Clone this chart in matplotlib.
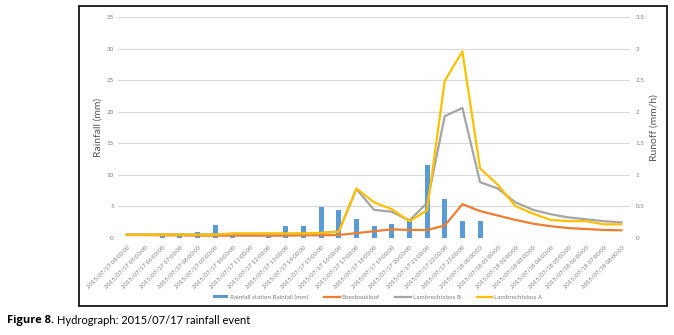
import matplotlib.pyplot as plt
import numpy as np
from matplotlib.patches import Rectangle

plt.rcParams['font.family'] = ['Lato', 'DejaVu Sans']

# hourly time steps
hours = ["2015/07/17 %02d:00:00" % h for h in range(4, 24)] + \
        ["2015/07/18 %02d:00:00" % h for h in range(0, 9)]

rainfall = [0, 0, 0.2, 0.2, 0.8, 2.0, 0.2, 0, 0.2, 1.8, 1.8, 4.8, 4.4, 3.0,
            1.8, 2.2, 2.6, 11.5, 6.2, 2.6, 2.6, 0, 0, 0, 0, 0, 0, 0, 0]
boesboukloof = [0.04, 0.04, 0.035, 0.035, 0.03, 0.03, 0.03, 0.03, 0.03, 0.03,
                0.035, 0.035, 0.04, 0.07, 0.1, 0.13, 0.12, 0.12, 0.19, 0.53,
                0.42, 0.35, 0.28, 0.22, 0.18, 0.15, 0.135, 0.12, 0.115]
lambrechtsbos_b = [0.05, 0.05, 0.05, 0.05, 0.05, 0.05, 0.06, 0.06, 0.06, 0.06,
                   0.065, 0.07, 0.1, 0.77, 0.44, 0.41, 0.27, 0.55, 1.93, 2.06,
                   0.88, 0.78, 0.56, 0.44, 0.37, 0.32, 0.29, 0.26, 0.24]
lambrechtsbos_a = [0.045, 0.045, 0.045, 0.045, 0.045, 0.045, 0.065, 0.065, 0.065, 0.065,
                   0.065, 0.075, 0.09, 0.78, 0.56, 0.45, 0.26, 0.43, 2.49, 2.96,
                   1.1, 0.84, 0.5, 0.38, 0.28, 0.26, 0.26, 0.21, 0.21]

grey = '#7f7f7f'
fig = plt.figure(figsize=(6.74, 3.35), dpi=100)
ax = fig.add_axes([0.175, 0.291, 0.760, 0.657])
x = np.arange(len(hours))

ax.bar(x, rainfall, width=0.28, color='#5B9BD5', zorder=2, label='Rainfall station Rainfall (mm)')
ax.set_ylim(0, 35)
ax.set_yticks(np.arange(0, 36, 5))
ax.set_xlim(-0.5, len(hours) - 0.5)
ax.grid(axis='y', color='#d9d9d9', linewidth=0.8, zorder=0)
ax.set_axisbelow(True)
for s in ax.spines.values():
    s.set_visible(False)
ax.tick_params(length=0, labelsize=4.5, labelcolor=grey)
ax.tick_params(axis='y', pad=3)
ax.tick_params(axis='x', pad=5)
ax.set_xticks(x)
ax.set_xticklabels(hours, rotation=45, ha='right', rotation_mode='anchor', fontsize=4.3)
ax.set_ylabel('Rainfall (mm)', fontsize=7.5, color='#595959', labelpad=3)

ax2 = ax.twinx()
ax2.plot(x, boesboukloof, color='#ED7D31', lw=1.6, label='Boesboukloof')
ax2.plot(x, lambrechtsbos_b, color='#A5A5A5', lw=1.6, label='Lambrechtsbos B')
ax2.plot(x, lambrechtsbos_a, color='#FFC000', lw=1.6, label='Lambrechtsbos A')
ax2.set_ylim(0, 3.5)
ax2.set_yticks(np.arange(0, 3.6, 0.5))
ax2.set_yticklabels(['0', '0.5', '1', '1.5', '2', '2.5', '3', '3.5'])
for s in ax2.spines.values():
    s.set_visible(False)
ax2.tick_params(length=0, labelsize=4.5, labelcolor=grey, pad=4)
ax2.set_ylabel('Runoff (mm/h)', fontsize=7.5, color='#595959', labelpad=4)

h1, l1 = ax.get_legend_handles_labels()
h2, l2 = ax2.get_legend_handles_labels()
fig.legend(h1 + h2, l1 + l2, loc='center', bbox_to_anchor=(0.56, 0.113), ncol=4,
           frameon=False, fontsize=4.5, labelcolor=grey, handlelength=2.5,
           handleheight=0.4, columnspacing=2.5, handletextpad=0.3)

# outer frame
fig.add_artist(Rectangle((79 / 674, 1 - 306 / 335), 588 / 674, 300 / 335,
                         transform=fig.transFigure, fill=False, edgecolor='black', lw=1.2))

# caption: bold part, then the rest placed right after it
cap_y = 1 - 320 / 335
t1 = fig.text(7 / 674, cap_y, 'Figure 8.', fontsize=8, fontweight='bold',
              family=['Open Sans', 'DejaVu Sans'], va='center')
r = fig.canvas.get_renderer()
bb = t1.get_window_extent(renderer=r)
fig.text((bb.x1 + 3) / 674, cap_y, 'Hydrograph: 2015/07/17 rainfall event', fontsize=8, va='center')

fig.savefig('out.png', dpi=100)
